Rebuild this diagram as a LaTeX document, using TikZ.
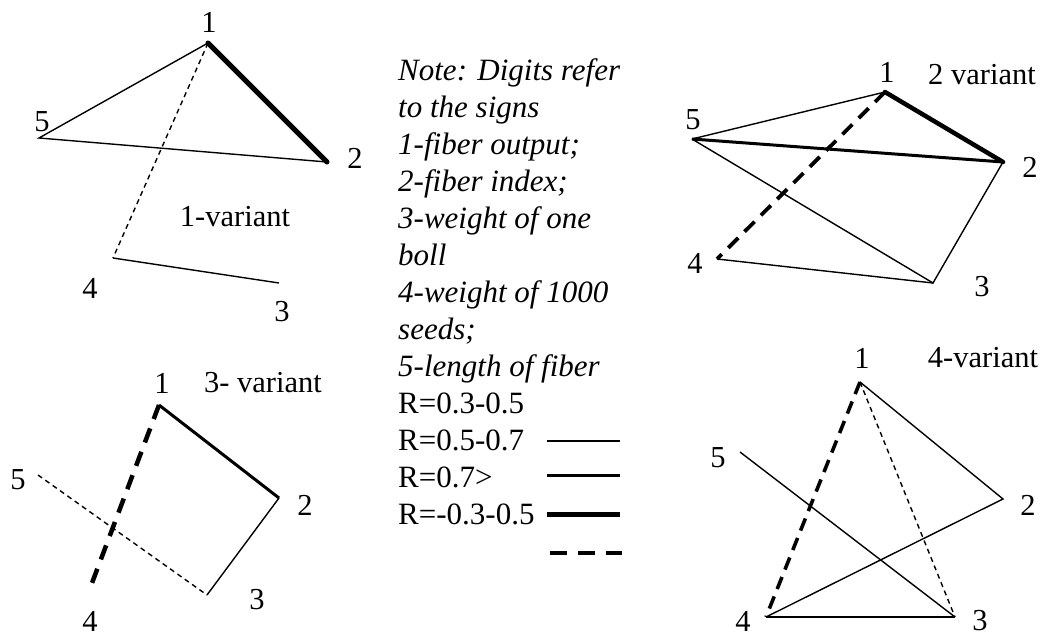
\documentclass[tikz,border=0pt]{standalone}
\usepackage{fontspec}
\setmainfont{Liberation Serif}
\begin{document}
\begin{tikzpicture}[x=1pt,y=-1pt,
  lbl/.style={font=\fontsize{30.5}{36}\selectfont, inner sep=0pt},
  notetext/.style={font=\fontsize{31}{36}\selectfont\itshape, inner sep=0pt, anchor=base west},
  rtext/.style={font=\fontsize{31}{36}\selectfont, inner sep=0pt, anchor=base west},
  thinln/.style={line width=1.4pt},
  medln/.style={line width=3pt},
  thickln/.style={line width=5pt},
  thindash/.style={line width=1.4pt, dash pattern=on 5pt off 4pt},
  thickdash/.style={line width=3.8pt, dash pattern=on 14pt off 9pt}
]
\useasboundingbox (0,0) rectangle (1045,637);

% ---------- Variant 1 ----------
\coordinate (a1) at (208,43);
\coordinate (a2) at (327,162);
\coordinate (a3) at (279,283);
\coordinate (a4) at (113,258);
\coordinate (a5) at (39,138);
\node[lbl] (la1) at (209,22) {1};
\node[lbl] (la2) at (355,158) {2};
\node[lbl] (la3) at (282,312) {3};
\node[lbl] (la4) at (90,288) {4};
\node[lbl] (la5) at (42,122) {5};
\node[lbl] (ta) at (235,217) {1-variant};
\draw[thinln] (a1) -- (a5) -- (a2);
\draw[thickln, line cap=round] (a1) -- (a2);
\draw[thindash] (a1) -- (a4);
\draw[thinln] (a4) -- (a3);

% ---------- Variant 2 ----------
\coordinate (b1) at (885,92);
\coordinate (b2) at (1003,162);
\coordinate (b3) at (933,283);
\coordinate (b4) at (717,259);
\coordinate (b5) at (692,139);
\node[lbl] (lb1) at (887,72) {1};
\node[lbl] (lb2) at (1030,167) {2};
\node[lbl] (lb3) at (982,287) {3};
\node[lbl] (lb4) at (695,263) {4};
\node[lbl] (lb5) at (693,120) {5};
\node[lbl] (tb) at (982,75) {2 variant};
\draw[thinln] (b5) -- (b1);
\draw[line width=4.5pt, line cap=round] (b1) -- (b2);
\draw[medln] (b5) -- (b2);
\draw[thinln] (b5) -- (b3) -- (b2);
\draw[thinln] (b4) -- (b3);
\draw[thickdash] (b1) -- (b4);

% ---------- Variant 3 ----------
\coordinate (c1) at (159,405);
\coordinate (c2) at (279,498);
\coordinate (c3) at (207,595);
\coordinate (c4) at (92,583);
\coordinate (c5) at (38,475);
\node[lbl] (lc1) at (162,383) {1};
\node[lbl] (lc2) at (305,505) {2};
\node[lbl] (lc3) at (257,600) {3};
\node[lbl] (lc4) at (90,621) {4};
\node[lbl] (lc5) at (18,480) {5};
\node[lbl] (tc) at (263,383) {3- variant};
\draw[medln] (c1) -- (c2);
\draw[thinln] (c2) -- (c3);
\draw[thindash] (c5) -- (c3);
\draw[line width=4.5pt, dash pattern=on 15pt off 10pt] (c1) -- (c4);

% ---------- Variant 4 ----------
\coordinate (d1) at (860,382);
\coordinate (d2) at (1003,499);
\coordinate (d3) at (955,617);
\coordinate (d4) at (766,617);
\coordinate (d5) at (740,452);
\node[lbl] (ld1) at (862,358) {1};
\node[lbl] (ld2) at (1028,505) {2};
\node[lbl] (ld3) at (980,621) {3};
\node[lbl] (ld4) at (743,621) {4};
\node[lbl] (ld5) at (718,458) {5};
\node[lbl] (td) at (983,358) {4-variant};
\draw[thinln] (d1) -- (d2) -- (d4);
\draw[thinln] (d5) -- (d3);
\draw[line width=2.2pt] (d4) -- (d3);
\draw[thindash] (d1) -- (d3);
\draw[line width=3.6pt, dash pattern=on 13pt off 8pt] (d1) -- (d4);

% ---------- Legend ----------
\node[notetext] (n1) at (398,80) {Note: Digits refer};
\node[notetext] (n2) at (398,117) {to the signs};
\node[notetext] (n3) at (398,154) {1-fiber output;};
\node[notetext] (n4) at (398,191) {2-fiber index;};
\node[notetext] (n5) at (398,228) {3-weight of one};
\node[notetext] (n6) at (398,265) {boll};
\node[notetext] (n7) at (398,302) {4-weight of 1000};
\node[notetext] (n8) at (398,339) {seeds;};
\node[notetext] (n9) at (398,376) {5-length of fiber};
\node[rtext] (r1) at (398,413) {R=0.3-0.5};
\node[rtext] (r2) at (398,450) {R=0.5-0.7};
\node[rtext] (r3) at (398,487) {R=0.7>};
\node[rtext] (r4) at (398,524) {R=-0.3-0.5};
\coordinate (ls1) at (547,441); \coordinate (le1) at (620,441);
\coordinate (ls2) at (547,475); \coordinate (le2) at (620,475);
\coordinate (ls3) at (547,514); \coordinate (le3) at (620,514);
\coordinate (ls4) at (550,553); \coordinate (le4) at (622,553);
\draw[thinln] (ls1) -- (le1);
\draw[medln] (ls2) -- (le2);
\draw[thickln] (ls3) -- (le3);
\draw[line width=4pt, dash pattern=on 17pt off 11pt] (ls4) -- (le4);
\end{tikzpicture}
\end{document}
